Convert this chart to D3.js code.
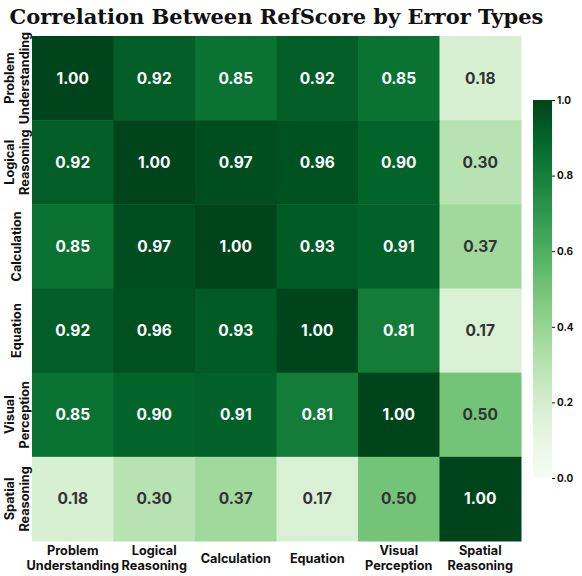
<!DOCTYPE html>
<html><head><meta charset="utf-8">
<script src="https://cdn.jsdelivr.net/npm/d3@7"></script>
<style>body{margin:0;background:#fff}</style>
</head><body>
<svg id="c" width="582" height="576"></svg>
<script>
const categories = [["Problem","Understanding"],["Logical","Reasoning"],["Calculation"],["Equation"],["Visual","Perception"],["Spatial","Reasoning"]];
const matrix = [
 [1.00,0.92,0.85,0.92,0.85,0.18],
 [0.92,1.00,0.97,0.96,0.90,0.30],
 [0.85,0.97,1.00,0.93,0.91,0.37],
 [0.92,0.96,0.93,1.00,0.81,0.17],
 [0.85,0.90,0.91,0.81,1.00,0.50],
 [0.18,0.30,0.37,0.17,0.50,1.00]
];
const cbTicks = [0.0,0.2,0.4,0.6,0.8,1.0];
const title = "Correlation Between RefScore by Error Types";

const svg = d3.select("#c");
const font = "Inter, 'DejaVu Sans', sans-serif";
const L=32,R=521,T=36,B=541;
const idx = d3.range(categories.length);
const x = d3.scaleBand().domain(idx).range([L,R]);
const y = d3.scaleBand().domain(idx).range([T,B]);
const color = d3.scaleSequential(d3.interpolateGreens).domain([0,1]);

svg.append("text").attr("x",276.5).attr("y",24).attr("text-anchor","middle")
  .attr("font-family","'DejaVu Serif', serif").attr("font-weight","bold").attr("font-size",21)
  .attr("fill","#111").text(title);

const cells=[];
matrix.forEach((row,i)=>row.forEach((v,j)=>cells.push({i,j,v})));
svg.append("g").selectAll("rect").data(cells).join("rect")
  .attr("x",d=>x(d.j)).attr("y",d=>y(d.i)).attr("width",x.bandwidth()+0.5).attr("height",y.bandwidth()+0.5)
  .attr("fill",d=>color(d.v));
svg.append("g").selectAll("text").data(cells).join("text")
  .attr("x",d=>x(d.j)+x.bandwidth()/2).attr("y",d=>y(d.i)+y.bandwidth()/2)
  .attr("dy","0.36em").attr("text-anchor","middle")
  .attr("font-family",font).attr("font-weight","bold").attr("font-size",15.5)
  .attr("fill",d=>d.v>0.6?"#fff":"#333").text(d=>d.v.toFixed(2));

// x labels
const xl = svg.append("g");
idx.forEach(j=>{
  const lines=categories[j];
  const t=xl.append("text").attr("text-anchor","middle").attr("font-family",font).attr("font-weight","bold")
   .attr("font-size",12.7).attr("fill","#111");
  const cx=x(j)+x.bandwidth()/2;
  const y0 = lines.length===2?554.5:562.5;
  lines.forEach((s,k)=>t.append("tspan").attr("x",cx).attr("y",y0+k*15).text(s));
});
// y labels
const yl = svg.append("g");
idx.forEach(i=>{
  const lines=categories[i];
  const cy=y(i)+y.bandwidth()/2;
  const t=yl.append("text").attr("text-anchor","middle").attr("font-family",font).attr("font-weight","bold")
   .attr("font-size",12.7).attr("fill","#111").attr("transform",`translate(0,${cy}) rotate(-90)`);
  const x0 = lines.length===2?13.5:21;
  lines.forEach((s,k)=>t.append("tspan").attr("x",0).attr("y",x0+k*15).text(s));
});

// colorbar
const cbX=533,cbW=19,cbT=100,cbB=478;
const defs=svg.append("defs");
const grad=defs.append("linearGradient").attr("id","g").attr("x1",0).attr("y1",1).attr("x2",0).attr("y2",0);
d3.range(0,1.001,0.05).forEach(t=>grad.append("stop").attr("offset",t).attr("stop-color",color(t)));
svg.append("rect").attr("x",cbX).attr("y",cbT).attr("width",cbW).attr("height",cbB-cbT).attr("fill","url(#g)");
const cbScale=d3.scaleLinear().domain([0,1]).range([cbB,cbT]);
const ax=svg.append("g").attr("transform",`translate(${cbX+cbW},0)`)
  .call(d3.axisRight(cbScale).tickValues(cbTicks).tickFormat(d3.format(".1f")).tickSize(3).tickPadding(2));
ax.select(".domain").remove();
ax.selectAll("text").attr("font-family",font).attr("font-weight","bold").attr("font-size",10).attr("fill","#111");
ax.selectAll("line").attr("stroke","#111");
</script>
</body></html>
